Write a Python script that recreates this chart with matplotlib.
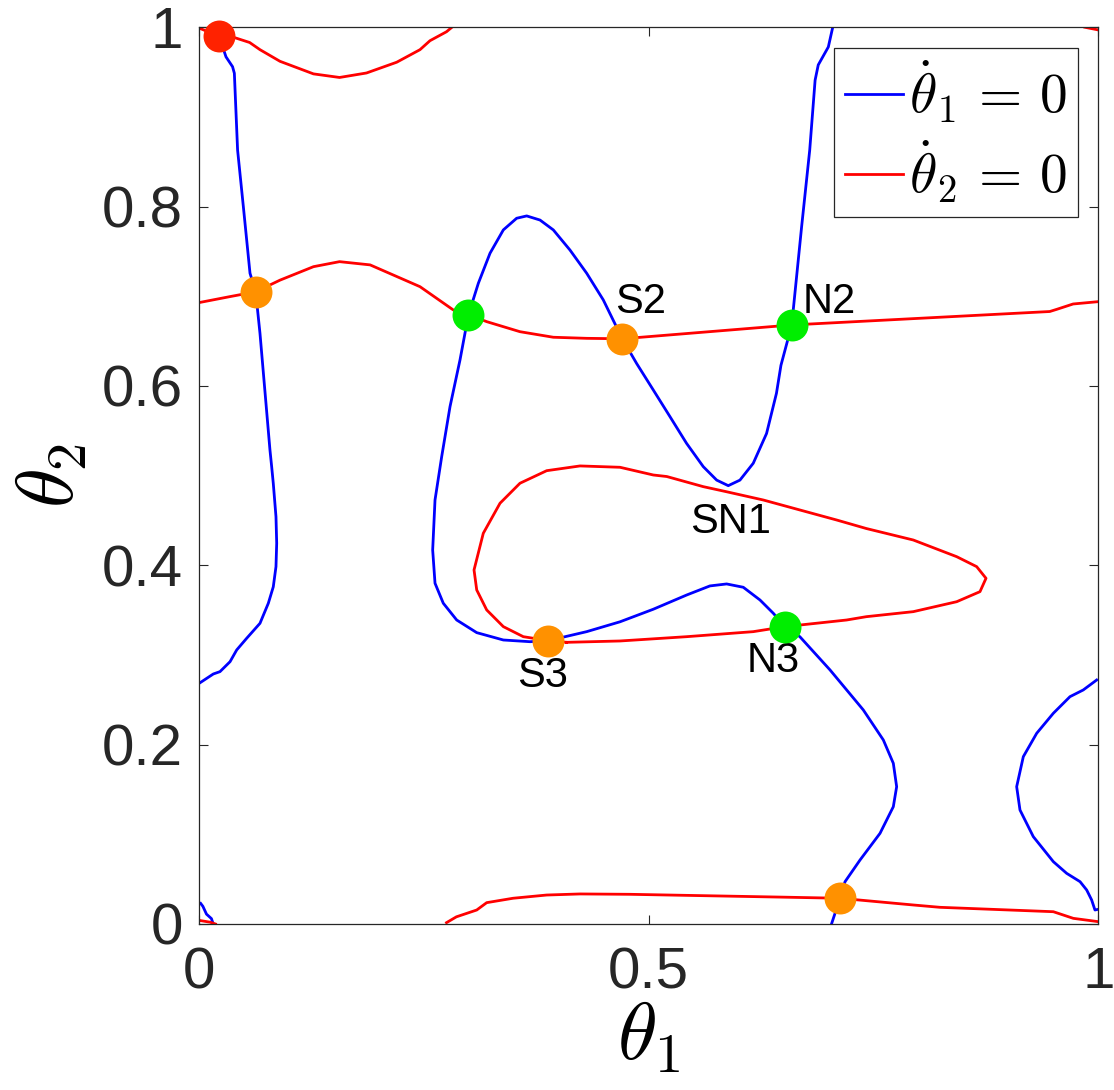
import numpy as np
import matplotlib
matplotlib.use("Agg")
import matplotlib.pyplot as plt

plt.rcParams['font.family'] = ['Liberation Sans', 'DejaVu Sans']
plt.rcParams['mathtext.fontset'] = 'cm'

# theta_2-dot = 0 nullcline pieces (red)
red_top_x = [0.0, 0.022, 0.0375, 0.056, 0.0675, 0.0898, 0.127, 0.156, 0.186, 0.2196, 0.2455, 0.2566, 0.275, 0.281]
red_top_y = [0.999, 0.990, 0.989, 0.983, 0.975, 0.962, 0.948, 0.944, 0.949, 0.961, 0.975, 0.985, 0.995, 1.0]

red_mid_x = [0.0, 0.034, 0.0627, 0.0898, 0.127, 0.156, 0.19, 0.2455, 0.2826, 0.2993, 0.3197, 0.3567, 0.3938,
             0.4309, 0.4706, 0.659, 0.946, 0.954, 0.972, 1.0]
red_mid_y = [0.693, 0.6996, 0.705, 0.718, 0.733, 0.7386, 0.735, 0.7107, 0.6847, 0.6795, 0.6717, 0.6605, 0.6543,
             0.6531, 0.6526, 0.668, 0.683, 0.6855, 0.6914, 0.694]

red_loop_x = [0.4087, 0.388, 0.3604, 0.3382, 0.3197, 0.3086, 0.3056, 0.3159, 0.3345, 0.3567, 0.3864, 0.4235,
              0.468, 0.505, 0.52, 0.5606, 0.5866, 0.6274, 0.668, 0.709, 0.742, 0.7942, 0.8425, 0.8647, 0.8751,
              0.8684, 0.8425, 0.7942, 0.742, 0.7201, 0.6515, 0.6162, 0.5422, 0.468, 0.4087]
red_loop_y = [0.3141, 0.316, 0.3204, 0.3316, 0.3502, 0.3725, 0.3948, 0.4357, 0.4692, 0.4915, 0.5055, 0.5108,
              0.5093, 0.5007, 0.499, 0.4877, 0.482, 0.4728, 0.4617, 0.4505, 0.441, 0.4282, 0.4096, 0.3985, 0.3855,
              0.3706, 0.3594, 0.3483, 0.3427, 0.339, 0.3316, 0.326, 0.3204, 0.3156, 0.3141]

red_bot_x = [0.275, 0.286, 0.3086, 0.3197, 0.349, 0.3864, 0.4235, 0.479, 0.6459, 0.7127, 0.7942, 0.8239, 0.95,
             0.9722, 1.0]
red_bot_y = [0.0015, 0.008, 0.0156, 0.0238, 0.0287, 0.0323, 0.0335, 0.0331, 0.030, 0.0287, 0.0212, 0.0186,
             0.0137, 0.0063, 0.0026]

red_bl_x = [0.0, 0.012, 0.018]
red_bl_y = [0.004, 0.002, 0.0]
red_tr_x = [0.985, 1.0]
red_tr_y = [1.0, 0.997]

# theta_1-dot = 0 nullcline pieces (blue)
blue_left_x = [0.022, 0.0297, 0.037, 0.039, 0.0426, 0.049, 0.0564, 0.0627, 0.0675, 0.0786, 0.0805, 0.0823,
               0.0853, 0.0861, 0.0853, 0.0823, 0.0768, 0.0675, 0.0527, 0.0416, 0.0342, 0.023, 0.0156, 0.0008]
blue_left_y = [0.990, 0.967, 0.956, 0.9487, 0.863, 0.800, 0.7257, 0.705, 0.6587, 0.5286, 0.51, 0.4914,
               0.4542, 0.4246, 0.3985, 0.376, 0.3577, 0.3353, 0.3186, 0.3056, 0.2925, 0.2814, 0.2788, 0.269]

blue_mid_x = [0.7046, 0.6997, 0.6885, 0.685, 0.679, 0.670, 0.659, 0.647, 0.642, 0.631, 0.6162, 0.6014, 0.5884,
              0.5755, 0.5606, 0.542, 0.5236, 0.505, 0.4865, 0.4705, 0.4494, 0.4309, 0.4123, 0.3938, 0.379, 0.3642,
              0.353, 0.3382, 0.3234, 0.3104, 0.2993, 0.29, 0.2789, 0.2696, 0.2622, 0.2596, 0.2622, 0.2714, 0.2863,
              0.3086, 0.3382, 0.3679, 0.3882, 0.4309, 0.468, 0.505, 0.5422, 0.568, 0.5866, 0.6051, 0.6237, 0.6385,
              0.6515, 0.668, 0.7016, 0.7386, 0.7609, 0.772, 0.7757, 0.772, 0.7572, 0.735, 0.7183, 0.7127, 0.7035]
blue_mid_y = [1.0, 0.978, 0.958, 0.941, 0.863, 0.7776, 0.668, 0.623, 0.5918, 0.547, 0.5138, 0.495, 0.4888,
              0.495, 0.51, 0.536, 0.5657, 0.5955, 0.625, 0.6526, 0.6959, 0.7257, 0.7516, 0.774, 0.785, 0.7896,
              0.787, 0.774, 0.748, 0.7145, 0.679, 0.629, 0.577, 0.521, 0.4728, 0.4171, 0.38, 0.3577, 0.339,
              0.3249, 0.3167, 0.3148, 0.316, 0.326, 0.337, 0.351, 0.3669, 0.377, 0.3792, 0.3755, 0.3613, 0.3465,
              0.3316, 0.3204, 0.2833, 0.2387, 0.2052, 0.1792, 0.1531, 0.1308, 0.1011, 0.0714, 0.0472, 0.0287, 0.0008]

blue_right_x = [0.9982, 0.9833, 0.9685, 0.95, 0.9315, 0.9166, 0.9092, 0.9129, 0.9277, 0.95, 0.9648, 0.9797,
                0.9871, 0.9926, 0.9963, 1.0]
blue_right_y = [0.2721, 0.261, 0.2535, 0.235, 0.2127, 0.1866, 0.1531, 0.1271, 0.0974, 0.0695, 0.0565, 0.0472,
                0.0379, 0.0268, 0.0156, 0.0164]

blue_bl_x = [0.0015, 0.004, 0.008, 0.0135, 0.015]
blue_bl_y = [0.023, 0.0197, 0.011, 0.006, 0.0015]

# fixed points
saddle_x = [0.0627, 0.4706, 0.388, 0.7127]
saddle_y = [0.705, 0.6524, 0.316, 0.0287]
node_x = [0.2993, 0.659, 0.6515]
node_y = [0.6795, 0.668, 0.3316]
unstable_x = [0.022]
unstable_y = [0.990]

labels = ['S2', 'N2', 'SN1', 'N3', 'S3']
label_x = [0.462, 0.671, 0.546, 0.609, 0.353]
label_y = [0.681, 0.681, 0.436, 0.281, 0.264]

fig = plt.figure(figsize=(11.14, 10.90), dpi=100)
ax = fig.add_axes([0.1789, 0.1523, 0.807, 0.8227])

lw = 2.0
blue = '#0000FF'
red = '#FF0000'
hb, = ax.plot(blue_left_x, blue_left_y, color=blue, lw=lw)
ax.plot(blue_mid_x, blue_mid_y, color=blue, lw=lw)
ax.plot(blue_right_x, blue_right_y, color=blue, lw=lw)
ax.plot(blue_bl_x, blue_bl_y, color=blue, lw=lw)
hr, = ax.plot(red_top_x, red_top_y, color=red, lw=lw)
ax.plot(red_mid_x, red_mid_y, color=red, lw=lw)
ax.plot(red_loop_x, red_loop_y, color=red, lw=lw)
ax.plot(red_bot_x, red_bot_y, color=red, lw=lw)
ax.plot(red_bl_x, red_bl_y, color=red, lw=lw)
ax.plot(red_tr_x, red_tr_y, color=red, lw=lw)

ms = 23
ax.plot(saddle_x, saddle_y, 'o', color='#FF9100', ms=ms, mec='none', zorder=5, clip_on=False)
ax.plot(node_x, node_y, 'o', color='#00EE00', ms=ms, mec='none', zorder=5, clip_on=False)
ax.plot(unstable_x, unstable_y, 'o', color='#FF2200', ms=ms, mec='none', zorder=5, clip_on=False)

for t, x, y in zip(labels, label_x, label_y):
    ax.text(x, y, t, fontsize=30, color='black', ha='left', va='baseline')

ax.set_xlim(0, 1)
ax.set_ylim(0, 1)
ax.set_xticks([0, 0.5, 1])
ax.set_xticklabels(['0', '0.5', '1'])
ax.set_yticks([0, 0.2, 0.4, 0.6, 0.8, 1])
ax.set_yticklabels(['0', '0.2', '0.4', '0.6', '0.8', '1'])
ax.tick_params(direction='in', length=6.5, width=0.8, top=True, right=True,
               labelsize=42, colors='#262626')
ax.tick_params(axis='y', pad=12)
ax.tick_params(axis='x', pad=16)
for s in ax.spines.values():
    s.set_linewidth(0.9)
    s.set_color('#262626')

ax.set_xlabel(r'$\theta_1$', fontsize=58, labelpad=0)
ax.set_ylabel(r'$\theta_2$', fontsize=58, labelpad=8)

leg = ax.legend([hb, hr], [r'$\dot{\theta}_1\,=\,0$', r'$\dot{\theta}_2\,=\,0$'],
                loc='upper right', bbox_to_anchor=(0.977, 0.977), borderaxespad=0,
                fontsize=40, handlelength=1.05, handletextpad=0.1, fancybox=False,
                framealpha=1, edgecolor='#262626', borderpad=0.2, labelspacing=0.25)
leg.get_frame().set_linewidth(0.9)

fig.savefig('out.png', dpi=100)
